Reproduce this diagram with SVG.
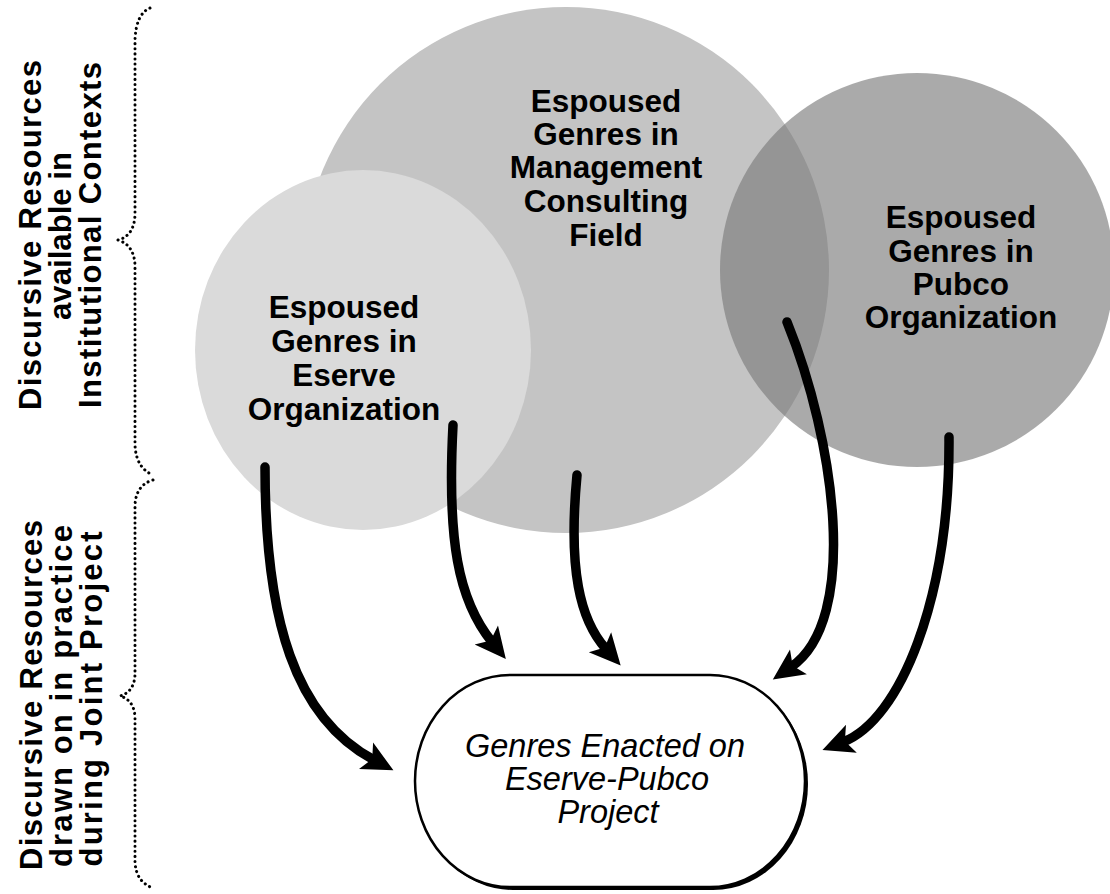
<svg xmlns="http://www.w3.org/2000/svg" width="1110" height="894" viewBox="0 0 1110 894">
<defs>
<style>
.ct{font-family:"Liberation Sans",Arial,sans-serif;font-weight:bold;font-size:31.5px;fill:#000;text-anchor:middle}
.lt{font-family:"Liberation Sans",Arial,sans-serif;font-weight:bold;font-size:31px;fill:#000;text-anchor:middle}
.et{font-family:"Liberation Sans",Arial,sans-serif;font-style:italic;font-size:32.5px;fill:#000;text-anchor:middle}
.arr{fill:none;stroke:#000;stroke-width:9.5;stroke-linecap:round;marker-end:url(#ah)}
.brace{fill:none;stroke:#000;stroke-width:3;stroke-linecap:round;stroke-dasharray:0.1 5}
</style>
<marker id="ah" markerUnits="userSpaceOnUse" orient="auto" refX="0" refY="0" markerWidth="60" markerHeight="60" overflow="visible">
<path d="M22,0 L-9,-15 L-2,0 L-9,15 Z" fill="#000"/>
</marker>
</defs>
<rect width="1110" height="894" fill="#fff"/>

<g id="braces">
<path class="brace" d="M150,8 Q136,14 135,40 L135,215 Q134,236 118,240 Q134,245 135,265 L135,445 Q136,468 153,475"/>
<path class="brace" d="M153,480 Q136,485 135,505 L135,675 Q134,692 120,696 Q134,700 135,717 L135,862 Q136,882 153,888"/>
</g>

<g id="label-institutional">
<text class="lt" transform="translate(41,235) rotate(-90)" textLength="350" lengthAdjust="spacing">Discursive Resources</text>
<text class="lt" transform="translate(71,236) rotate(-90)" textLength="168" lengthAdjust="spacing">available in</text>
<text class="lt" transform="translate(101,235) rotate(-90)" textLength="346" lengthAdjust="spacing">Institutional Contexts</text>
</g>
<g id="label-practice">
<text class="lt" transform="translate(42,695) rotate(-90)" textLength="350" lengthAdjust="spacing">Discursive Resources</text>
<text class="lt" transform="translate(72,696) rotate(-90)" textLength="342" lengthAdjust="spacing">drawn on in practice</text>
<text class="lt" transform="translate(102,699) rotate(-90)" textLength="335" lengthAdjust="spacing">during Joint Project</text>
</g>

<g id="management">
<circle cx="566" cy="270" r="263" fill="#c4c4c4"/>
</g>
<g id="eserve">
<ellipse cx="363" cy="350" rx="168" ry="180" fill="#dadada"/>
<text class="ct" x="344" y="318">Espoused</text>
<text class="ct" x="344" y="352">Genres in</text>
<text class="ct" x="344" y="386">Eserve</text>
<text class="ct" x="344" y="420">Organization</text>
</g>
<g id="pubco">
<circle cx="917" cy="270" r="197" fill="#7a7a7a" fill-opacity="0.64"/>
<text class="ct" x="961" y="228">Espoused</text>
<text class="ct" x="961" y="262">Genres in</text>
<text class="ct" x="961" y="295">Pubco</text>
<text class="ct" x="961" y="328">Organization</text>
</g>
<g id="management-label">
<text class="ct" x="606" y="112">Espoused</text>
<text class="ct" x="606" y="145">Genres in</text>
<text class="ct" x="606" y="178">Management</text>
<text class="ct" x="606" y="212">Consulting</text>
<text class="ct" x="606" y="246">Field</text>
</g>

<g id="enacted">
<rect x="418" y="678" width="390" height="212" rx="95" ry="106" fill="#000"/>
<rect x="415" y="675" width="390" height="212" rx="95" ry="106" fill="#fff" stroke="#000" stroke-width="2.5"/>
<text class="et" x="605" y="757">Genres Enacted on</text>
<text class="et" x="607" y="790">Eserve-Pubco</text>
<text class="et" x="608" y="823">Project</text>
</g>

<g id="connectors">
<path class="arr" d="M265,467 C265,620 295,718 374,760"/>
<path class="arr" d="M453,425 C447,540 458,600 492,642"/>
<path class="arr" d="M577,475 C568,570 580,620 606,649"/>
<path class="arr" d="M787,322 C835,440 860,620 791,667"/>
<path class="arr" d="M949,437 C950,600 900,720 843,742"/>
</g>
</svg>
